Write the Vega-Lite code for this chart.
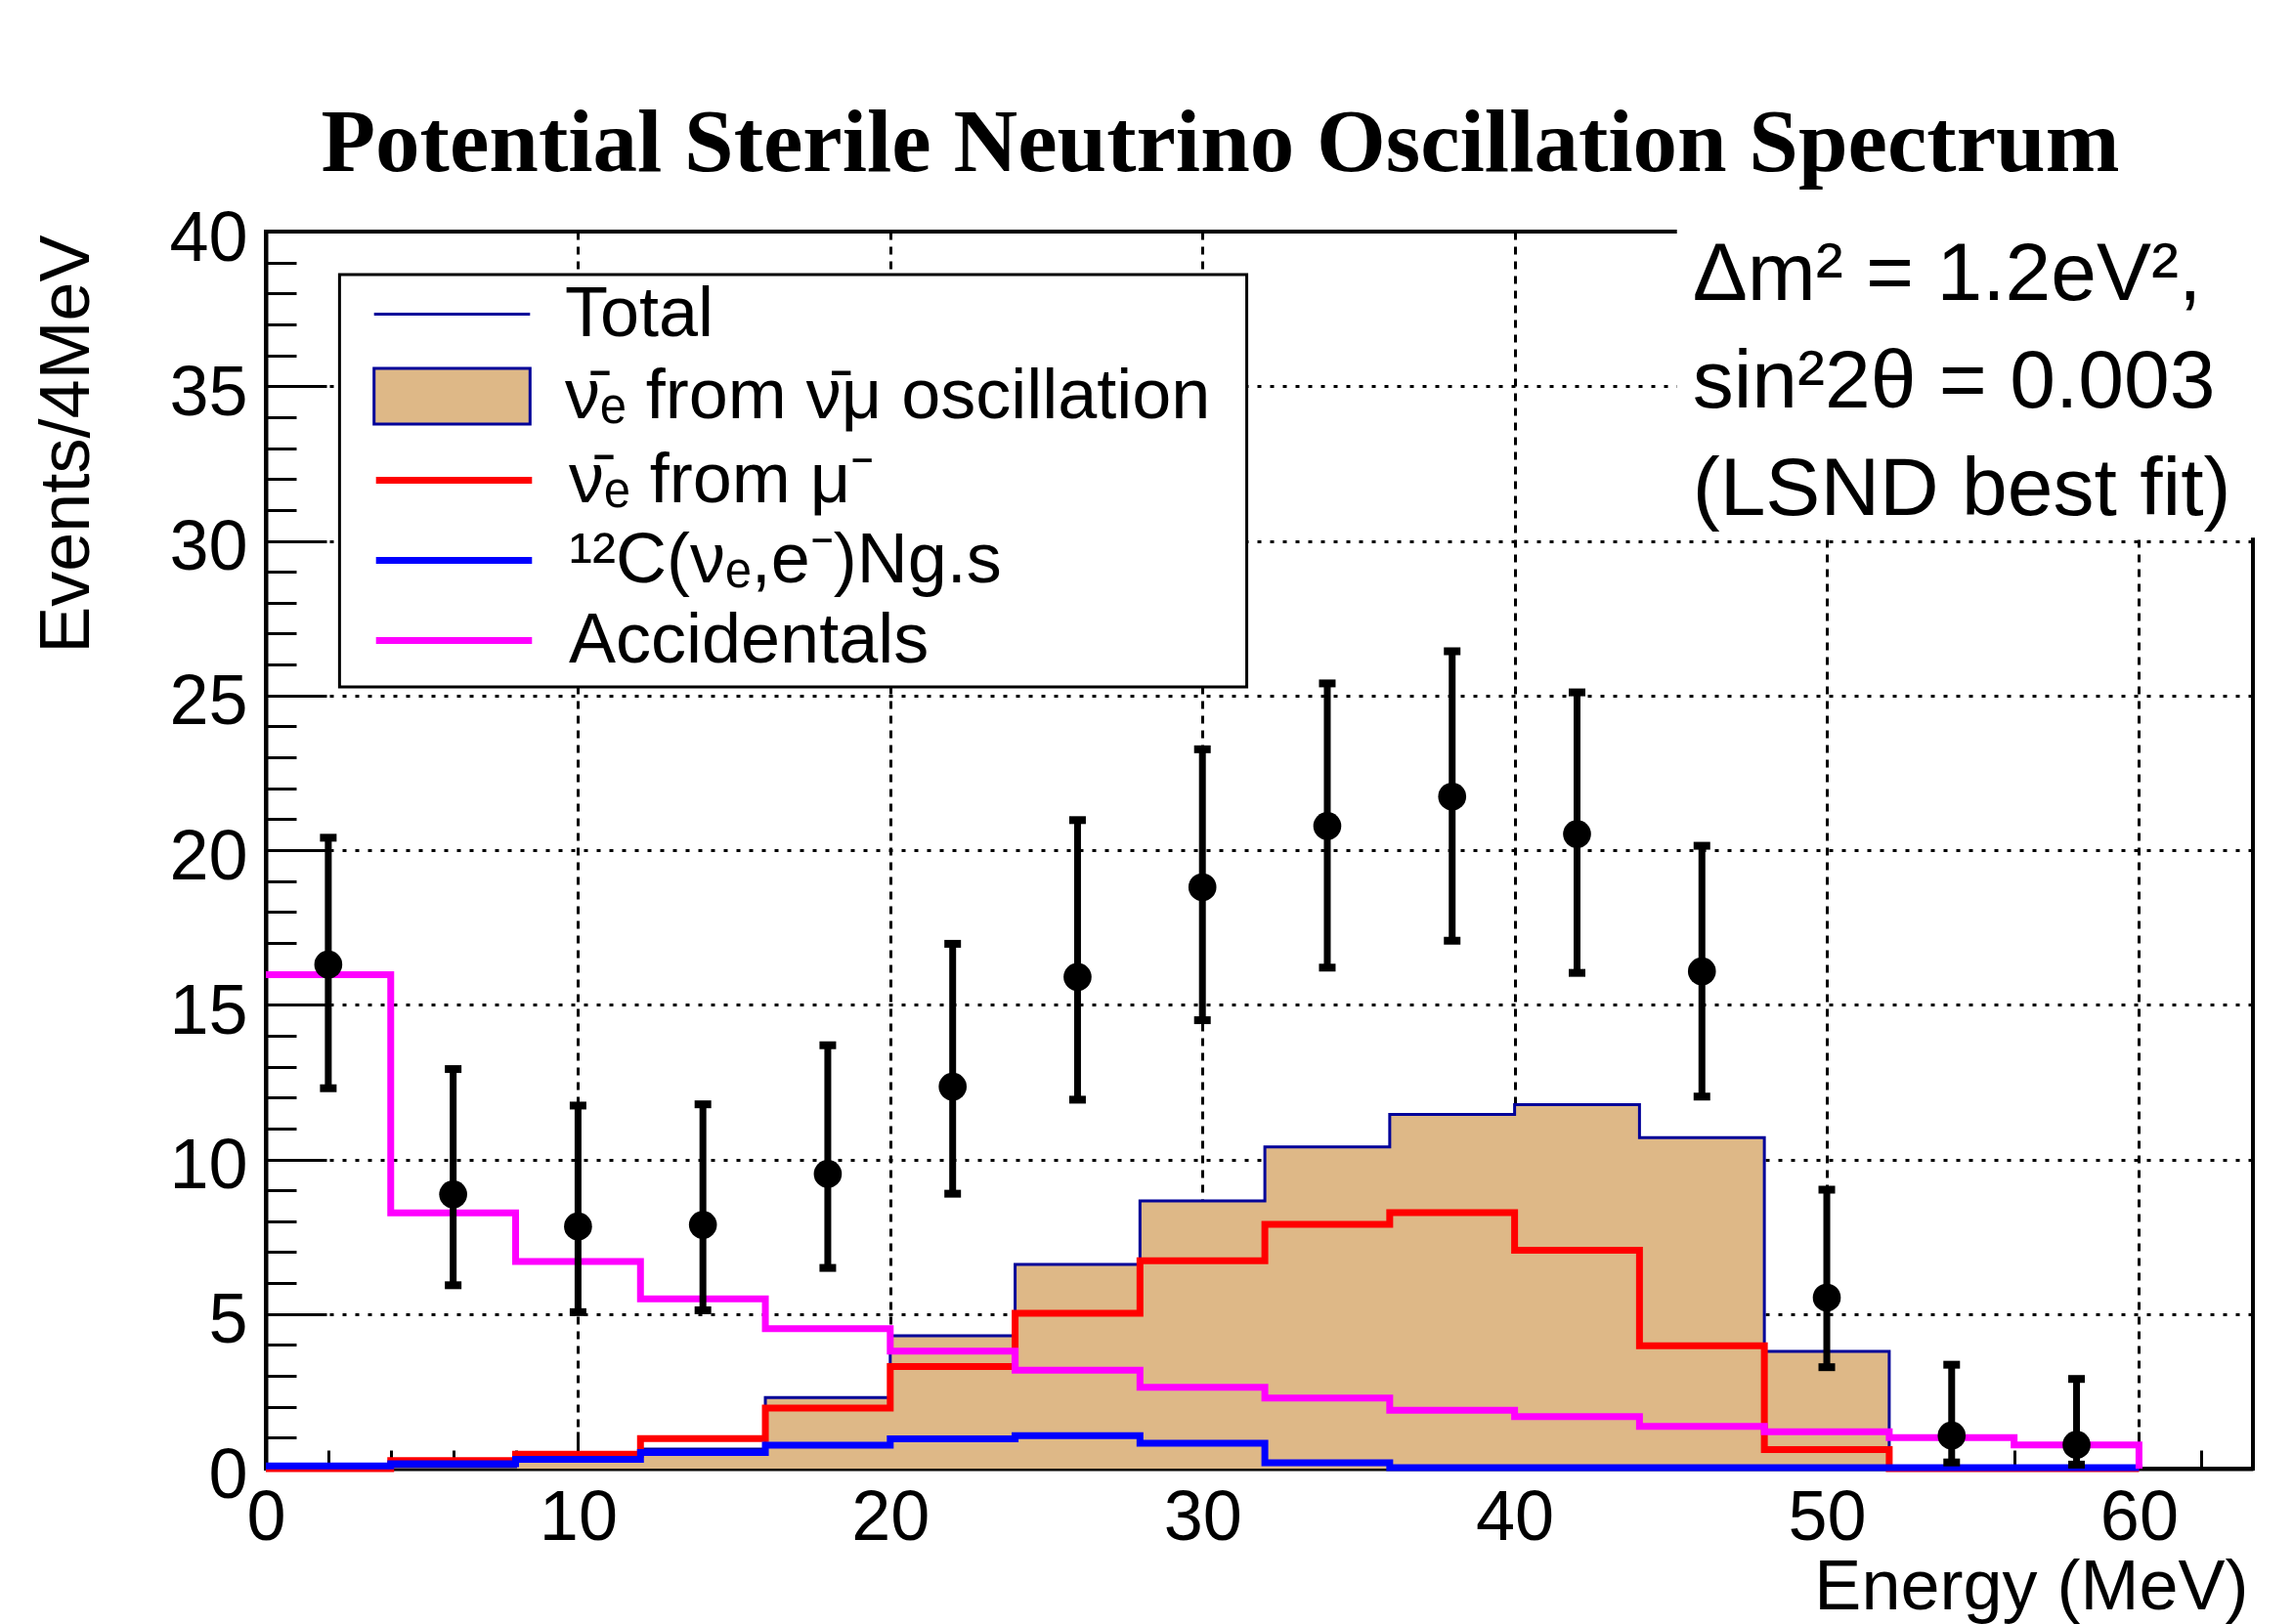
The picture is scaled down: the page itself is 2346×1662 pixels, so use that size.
{
  "$schema": "https://vega.github.io/schema/vega-lite/v6.json",
  "width": 2033,
  "height": 1266,
  "autosize": {"type": "none"},
  "padding": {"left": 272, "top": 237, "right": 41, "bottom": 159},
  "background": "white",
  "config": {
    "view": {"stroke": "black", "strokeWidth": 4},
    "font": "Liberation Sans",
    "axis": {
      "labelFont": "Liberation Sans", "labelFontSize": 72, "labelColor": "black",
      "titleFont": "Liberation Sans", "titleFontSize": 72, "titleFontWeight": "normal", "titleColor": "black",
      "tickColor": "black", "tickWidth": 3, "domainColor": "black", "domainWidth": 4,
      "labelFlush": false, "labelOverlap": false, "labelBound": false,
      "gridColor": "black", "gridOpacity": 1, "gridWidth": 3
    },
    "legend": {
      "orient": "none", "direction": "vertical", "padding": 0, "rowPadding": -1,
      "symbolSize": 7056, "symbolOffset": 38, "labelOffset": 72,
      "labelFont": "Liberation Sans", "labelFontSize": 72, "labelColor": "black", "labelLimit": 3000,
      "symbolOpacity": 1
    }
  },
  "title": {
    "text": "Potential Sterile Neutrino Oscillation Spectrum",
    "font": "Liberation Serif", "fontWeight": "bold", "fontSize": 91, "color": "black",
    "anchor": "middle", "frame": "group", "baseline": "alphabetic", "offset": -61, "dx": -40
  },
  "datasets": {
    "hist": [
      {"s": "osc", "e": 0, "v": 0}, {"s": "osc", "e": 4, "v": 0.06}, {"s": "osc", "e": 8, "v": 0.37}, {"s": "osc", "e": 12, "v": 0.63},
      {"s": "osc", "e": 16, "v": 2.3}, {"s": "osc", "e": 20, "v": 4.3}, {"s": "osc", "e": 24, "v": 6.6}, {"s": "osc", "e": 28, "v": 8.66},
      {"s": "osc", "e": 32, "v": 10.4}, {"s": "osc", "e": 36, "v": 11.45}, {"s": "osc", "e": 40, "v": 11.77}, {"s": "osc", "e": 44, "v": 10.7},
      {"s": "osc", "e": 48, "v": 3.79}, {"s": "osc", "e": 52, "v": 0}, {"s": "osc", "e": 56, "v": 0}, {"s": "osc", "e": 60, "v": 0},
      {"s": "mu", "e": 0, "v": 0}, {"s": "mu", "e": 4, "v": 0.26}, {"s": "mu", "e": 8, "v": 0.47}, {"s": "mu", "e": 12, "v": 0.97},
      {"s": "mu", "e": 16, "v": 1.96}, {"s": "mu", "e": 20, "v": 3.3}, {"s": "mu", "e": 24, "v": 5.02}, {"s": "mu", "e": 28, "v": 6.72},
      {"s": "mu", "e": 32, "v": 7.9}, {"s": "mu", "e": 36, "v": 8.28}, {"s": "mu", "e": 40, "v": 7.06}, {"s": "mu", "e": 44, "v": 3.97},
      {"s": "mu", "e": 48, "v": 0.62}, {"s": "mu", "e": 52, "v": 0}, {"s": "mu", "e": 56, "v": 0}, {"s": "mu", "e": 60, "v": 0},
      {"s": "C12", "e": 0, "v": 0.09}, {"s": "C12", "e": 4, "v": 0.16}, {"s": "C12", "e": 8, "v": 0.3}, {"s": "C12", "e": 12, "v": 0.52},
      {"s": "C12", "e": 16, "v": 0.76}, {"s": "C12", "e": 20, "v": 0.96}, {"s": "C12", "e": 24, "v": 1.07}, {"s": "C12", "e": 28, "v": 0.82},
      {"s": "C12", "e": 32, "v": 0.19}, {"s": "C12", "e": 36, "v": 0.03}, {"s": "C12", "e": 40, "v": 0.03}, {"s": "C12", "e": 44, "v": 0.03},
      {"s": "C12", "e": 48, "v": 0.03}, {"s": "C12", "e": 52, "v": 0.03}, {"s": "C12", "e": 56, "v": 0.03}, {"s": "C12", "e": 60, "v": 0},
      {"s": "Acc", "e": 0, "v": 15.97}, {"s": "Acc", "e": 4, "v": 8.27}, {"s": "Acc", "e": 8, "v": 6.7}, {"s": "Acc", "e": 12, "v": 5.49},
      {"s": "Acc", "e": 16, "v": 4.53}, {"s": "Acc", "e": 20, "v": 3.8}, {"s": "Acc", "e": 24, "v": 3.18}, {"s": "Acc", "e": 28, "v": 2.63},
      {"s": "Acc", "e": 32, "v": 2.28}, {"s": "Acc", "e": 36, "v": 1.89}, {"s": "Acc", "e": 40, "v": 1.68}, {"s": "Acc", "e": 44, "v": 1.37},
      {"s": "Acc", "e": 48, "v": 1.19}, {"s": "Acc", "e": 52, "v": 1.0}, {"s": "Acc", "e": 56, "v": 0.77}, {"s": "Acc", "e": 60, "v": 0}
    ],
    "total": [
      {"t": "Total", "e": 0, "v": 0}, {"t": "Total", "e": 4, "v": 0.06}, {"t": "Total", "e": 8, "v": 0.37}, {"t": "Total", "e": 12, "v": 0.63},
      {"t": "Total", "e": 16, "v": 2.3}, {"t": "Total", "e": 20, "v": 4.3}, {"t": "Total", "e": 24, "v": 6.6}, {"t": "Total", "e": 28, "v": 8.66},
      {"t": "Total", "e": 32, "v": 10.4}, {"t": "Total", "e": 36, "v": 11.45}, {"t": "Total", "e": 40, "v": 11.77}, {"t": "Total", "e": 44, "v": 10.7},
      {"t": "Total", "e": 48, "v": 3.79}, {"t": "Total", "e": 52, "v": 0}, {"t": "Total", "e": 56, "v": 0}, {"t": "Total", "e": 60, "v": 0}
    ],
    "pts": [
      {"e": 2, "n": 16.3, "lo": 12.3, "hi": 20.4},
      {"e": 6, "n": 8.87, "lo": 5.93, "hi": 12.92},
      {"e": 10, "n": 7.83, "lo": 5.06, "hi": 11.74},
      {"e": 14, "n": 7.88, "lo": 5.12, "hi": 11.78},
      {"e": 18, "n": 9.53, "lo": 6.49, "hi": 13.69},
      {"e": 22, "n": 12.35, "lo": 8.89, "hi": 16.97},
      {"e": 26, "n": 15.9, "lo": 11.93, "hi": 20.97},
      {"e": 30, "n": 18.8, "lo": 14.5, "hi": 23.26},
      {"e": 34, "n": 20.78, "lo": 16.2, "hi": 25.39},
      {"e": 38, "n": 21.73, "lo": 17.07, "hi": 26.43},
      {"e": 42, "n": 20.52, "lo": 16.03, "hi": 25.1},
      {"e": 46, "n": 16.08, "lo": 12.03, "hi": 20.14},
      {"e": 50, "n": 5.53, "lo": 3.28, "hi": 9.02},
      {"e": 54, "n": 1.07, "lo": 0.2, "hi": 3.36},
      {"e": 58, "n": 0.77, "lo": 0.13, "hi": 2.9}
    ]
  },
  "resolve": {"axis": {"x": "independent", "y": "independent"}},
  "layer": [
    {
      "data": {"name": "hist"},
      "transform": [{"filter": "datum.s === 'osc'"}],
      "mark": {"type": "area", "interpolate": "step-after", "opacity": 1},
      "encoding": {
        "x": {"field": "e", "type": "quantitative",
          "scale": {"domain": [0, 63.65], "nice": false, "zero": false},
          "axis": {"orient": "bottom", "values": [0, 10, 20, 30, 40, 50, 60], "tickSize": -38, "labelPadding": 53,
            "grid": true, "gridDash": [8, 7], "title": "Energy (MeV)",
            "titleX": 2028, "titleY": 143, "titleAlign": "right", "titleBaseline": "alphabetic", "titleAnchor": null}},
        "y": {"field": "v", "type": "quantitative",
          "scale": {"domain": [0, 40], "nice": false},
          "axis": {"orient": "left", "values": [0, 5, 10, 15, 20, 25, 30, 35, 40], "tickSize": -62, "labelPadding": 81, "labelOffset": 7,
            "grid": true, "gridDash": [4, 9], "title": "Events/4MeV",
            "titleX": -182, "titleY": 3, "titleAngle": 270, "titleAlign": "right", "titleBaseline": "alphabetic", "titleAnchor": null}},
        "fill": {"field": "s", "type": "nominal",
          "scale": {"domain": ["osc"], "range": ["#deb887"]},
          "legend": {"title": null, "legendX": 109, "legendY": 125, "values": ["osc"],
            "symbolType": "M-1.9,-0.68H1.9V0.68H-1.9Z", "symbolStrokeColor": "#000099", "symbolStrokeWidth": 3,
            "labelExpr": "'ν̄ₑ from ν̄μ oscillation'"}}
      }
    },
    {
      "data": {"name": "total"},
      "mark": {"type": "line", "interpolate": "step-after", "strokeWidth": 3},
      "encoding": {
        "x": {"field": "e", "type": "quantitative",
          "axis": {"orient": "bottom", "values": [0, 2, 4, 6, 8, 12, 14, 16, 18, 22, 24, 26, 28, 32, 34, 36, 38, 42, 44, 46, 48, 52, 54, 56, 58, 62], "tickSize": -19, "labels": false, "domain": false, "grid": false, "title": null}},
        "y": {"field": "v", "type": "quantitative",
          "axis": {"orient": "left", "values": [1, 2, 3, 4, 6, 7, 8, 9, 11, 12, 13, 14, 16, 17, 18, 19, 21, 22, 23, 24, 26, 27, 28, 29, 31, 32, 33, 34, 36, 37, 38, 39], "tickSize": -31, "labels": false, "domain": false, "grid": false, "title": null}},
        "stroke": {"field": "t", "type": "nominal",
          "scale": {"domain": ["Total"], "range": ["#000099"]},
          "legend": {"title": null, "legendX": 109, "legendY": 41, "values": ["Total"],
            "symbolType": "M-1.9,0H1.9", "symbolStrokeWidth": 3}}
      }
    },
    {
      "data": {"name": "hist"},
      "transform": [{"filter": "datum.s !== 'osc'"}],
      "mark": {"type": "line", "interpolate": "step-after", "strokeWidth": 7},
      "encoding": {
        "x": {"field": "e", "type": "quantitative", "axis": null},
        "y": {"field": "v", "type": "quantitative", "axis": null},
        "color": {"field": "s", "type": "nominal",
          "scale": {"domain": ["mu", "C12", "Acc"], "range": ["#ff0000", "#0000ff", "#ff00ff"]},
          "legend": {"title": null, "legendX": 109, "legendY": 209, "values": ["mu", "C12", "Acc"],
            "symbolType": "M-1.9,0H1.9", "symbolStrokeWidth": 7,
            "labelExpr": "datum.value === 'mu' ? 'ν̄ₑ from μ⁻' : datum.value === 'C12' ? '¹²C(νₑ,e⁻)Ng.s' : 'Accidentals'"}}
      }
    },
    {
      "data": {"name": "pts"},
      "mark": {"type": "rule", "strokeWidth": 7, "color": "black"},
      "encoding": {
        "x": {"field": "e", "type": "quantitative", "axis": null},
        "y": {"field": "lo", "type": "quantitative", "axis": null},
        "y2": {"field": "hi"}
      }
    },
    {
      "data": {"name": "pts"},
      "mark": {"type": "tick", "orient": "horizontal", "size": 17, "thickness": 8, "color": "black", "opacity": 1},
      "encoding": {
        "x": {"field": "e", "type": "quantitative", "axis": null},
        "y": {"field": "lo", "type": "quantitative", "axis": null}
      }
    },
    {
      "data": {"name": "pts"},
      "mark": {"type": "tick", "orient": "horizontal", "size": 17, "thickness": 8, "color": "black", "opacity": 1},
      "encoding": {
        "x": {"field": "e", "type": "quantitative", "axis": null},
        "y": {"field": "hi", "type": "quantitative", "axis": null}
      }
    },
    {
      "data": {"name": "pts"},
      "mark": {"type": "point", "shape": "circle", "filled": true, "size": 820, "color": "black", "opacity": 1},
      "encoding": {
        "x": {"field": "e", "type": "quantitative", "axis": null},
        "y": {"field": "n", "type": "quantitative", "axis": null}
      }
    },
    {
      "data": {"values": [{}]},
      "mark": {"type": "rect", "fill": "white", "stroke": "black", "strokeWidth": 3},
      "encoding": {
        "x": {"datum": 2.36, "type": "quantitative", "axis": null},
        "x2": {"datum": 31.42},
        "y": {"datum": 38.61, "type": "quantitative", "axis": null},
        "y2": {"datum": 25.28}
      }
    },
    {
      "data": {"values": [{}]},
      "mark": {"type": "rect", "fill": "white", "strokeWidth": 0},
      "encoding": {
        "x": {"datum": 45.2, "type": "quantitative", "axis": null},
        "x2": {"datum": 65.5},
        "y": {"datum": 41, "type": "quantitative", "axis": null},
        "y2": {"datum": 30.1}
      }
    },
    {
      "data": {"values": [{}]},
      "mark": {"type": "text", "text": ["Δm² = 1.2eV²,", "sin²2θ = 0.003", "(LSND best fit)"],
        "font": "Liberation Sans", "fontSize": 84, "color": "black", "align": "left", "baseline": "alphabetic", "lineHeight": 110},
      "encoding": {
        "x": {"datum": 45.7, "type": "quantitative", "axis": null},
        "y": {"datum": 37.79, "type": "quantitative", "axis": null}
      }
    }
  ]
}
